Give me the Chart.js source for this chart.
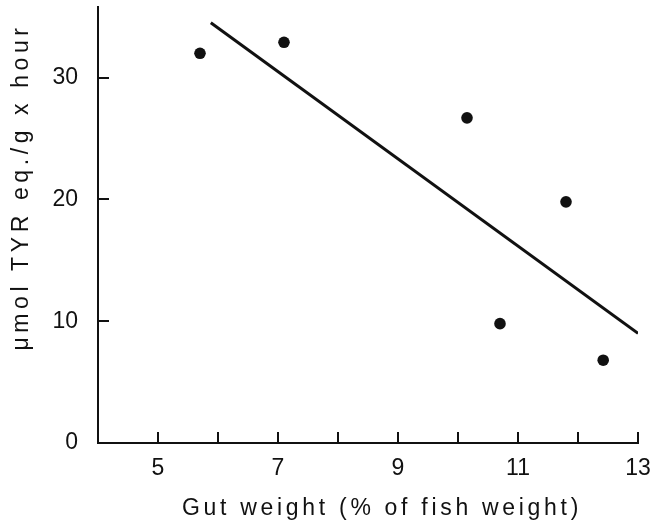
<!DOCTYPE html>
<html>
<head>
<meta charset="utf-8">
<script src="https://cdn.jsdelivr.net/npm/chart.js@4.4.1/dist/chart.umd.min.js"></script>
<style>
  html, body { margin: 0; padding: 0; background: #fff; }
  #wrap { width: 652px; height: 525px; }
</style>
</head>
<body>
<div id="wrap"><canvas id="chart" width="652" height="525"></canvas></div>
<script>
// measured samples: gut weight (% of fish weight) vs activity
const gutWeight = [5.7, 7.1, 10.15, 10.7, 11.8, 12.42];
const tyrActivity = [32, 32.9, 26.7, 9.8, 19.8, 6.8];

// fitted regression line end points
const fitX = [5.88, 13];
const fitY = [34.5, 9.0];

const xTickValues = [5, 6, 7, 8, 9, 10, 11, 12, 13];
const xTickLabels = [5, 7, 9, 11, 13];
const yTickValues = [0, 10, 20, 30];

const xTitle = 'Gut weight (% of fish weight)';
const yTitle = 'μmol TYR eq./g x hour';

const FONT = '"Liberation Sans", Arial, sans-serif';
const INK = '#111';

// short tick marks pointing into the plot, plus spaced-out axis titles
const axisDecor = {
  id: 'axisDecor',
  afterDraw(chart) {
    const { ctx, chartArea, scales } = chart;
    const tickLen = 11;
    ctx.save();
    ctx.strokeStyle = INK;
    ctx.lineWidth = 2;
    ctx.beginPath();
    xTickValues.forEach((v) => {
      const px = Math.round(scales.x.getPixelForValue(v));
      ctx.moveTo(px, chartArea.bottom);
      ctx.lineTo(px, chartArea.bottom - tickLen);
    });
    yTickValues.slice(1).forEach((v) => {
      const py = Math.round(scales.y.getPixelForValue(v));
      ctx.moveTo(chartArea.left, py);
      ctx.lineTo(chartArea.left + tickLen, py);
    });
    ctx.stroke();

    ctx.fillStyle = INK;
    ctx.font = '23px ' + FONT;
    ctx.textAlign = 'center';
    ctx.textBaseline = 'middle';
    ctx.letterSpacing = '3.7px';
    ctx.fillText(xTitle, 382, 509);

    ctx.translate(22, 187);
    ctx.rotate(-Math.PI / 2);
    ctx.letterSpacing = '4.6px';
    ctx.fillText(yTitle, 0, 0);
    ctx.restore();
  },
};

const ctx = document.getElementById('chart');

new Chart(ctx, {
  type: 'scatter',
  data: {
    datasets: [
      {
        label: 'fit',
        type: 'line',
        data: fitX.map((x, i) => ({ x, y: fitY[i] })),
        borderColor: INK,
        borderWidth: 3,
        pointRadius: 0,
        fill: false,
        tension: 0,
      },
      {
        label: 'samples',
        data: gutWeight.map((x, i) => ({ x, y: tyrActivity[i] })),
        backgroundColor: INK,
        borderWidth: 0,
        pointRadius: 5.8,
      },
    ],
  },
  options: {
    responsive: false,
    animation: false,
    layout: { padding: { top: 7, right: 14, left: 0, bottom: 0 } },
    plugins: {
      legend: { display: false },
      tooltip: { enabled: false },
    },
    scales: {
      x: {
        type: 'linear',
        min: 4,
        max: 13,
        grid: { display: false },
        border: { display: true, color: INK, width: 2 },
        afterBuildTicks: (scale) => {
          scale.ticks = xTickValues.map((v) => ({ value: v }));
        },
        afterFit: (scale) => {
          scale.height = 82;
          scale.paddingLeft = 0;
          scale.paddingRight = 0;
        },
        ticks: {
          autoSkip: false,
          maxRotation: 0,
          padding: 4,
          color: INK,
          font: { family: FONT, size: 23 },
          callback: (value) => (xTickLabels.includes(value) ? String(value) : ''),
        },
      },
      y: {
        type: 'linear',
        min: 0,
        max: 35.8,
        grid: { display: false },
        border: { display: true, color: INK, width: 2 },
        afterBuildTicks: (scale) => {
          scale.ticks = yTickValues.map((v) => ({ value: v }));
        },
        afterFit: (scale) => {
          scale.width = 98;
          scale.paddingTop = 0;
          scale.paddingBottom = 0;
        },
        ticks: {
          padding: 12,
          color: INK,
          font: { family: FONT, size: 23 },
        },
      },
    },
  },
  plugins: [axisDecor],
});
</script>
</body>
</html>
